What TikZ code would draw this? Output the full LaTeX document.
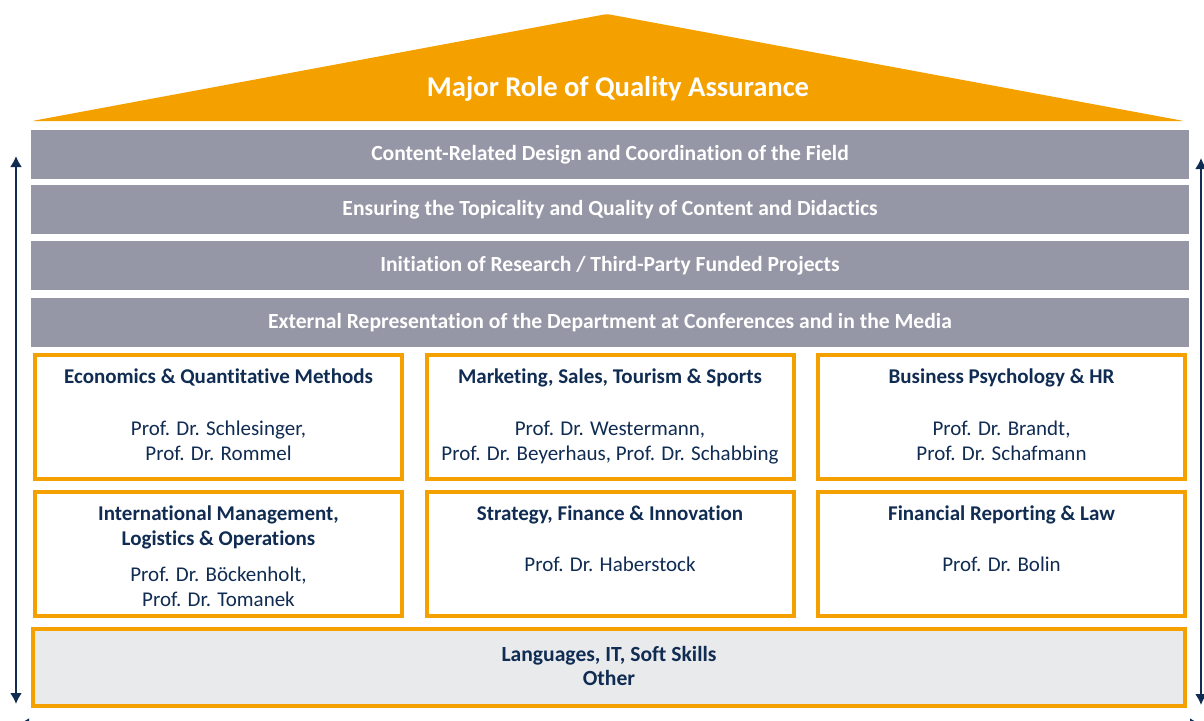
\documentclass[tikz,border=0pt]{standalone}
\usepackage{fontspec}
\setmainfont{Carlito}[Ligatures=NoCommon]
\usetikzlibrary{arrows.meta}
\definecolor{roof}{RGB}{244,161,0}
\definecolor{bargray}{RGB}{150,151,166}
\definecolor{navy}{RGB}{16,44,82}
\definecolor{basegray}{RGB}{233,234,236}
\tikzset{bar/.style={fill=bargray, text=white, font=\bfseries\fontsize{21.6}{25}\selectfont, minimum width=1158, minimum height=49, inner sep=0}}
\tikzset{field/.style={draw=roof, line width=4, fill=white, minimum width=367, minimum height=124, inner sep=0}}
\tikzset{fieldtext/.style={anchor=north, align=center, text=navy, font=\fontsize{21}{25}\selectfont}}
\tikzset{span/.style={draw=navy, line width=2, {Latex[length=11, width=12]}-{Latex[length=11, width=12]}}}

\begin{document}
\begin{tikzpicture}[x=1pt, y=-1pt]
            \useasboundingbox (0, 0) rectangle (1204, 720);
            \clip (0, 0) rectangle (1204, 720);
            \fill[roof, rounded corners=2] (32, 121) -- (607, 14) -- (1184, 121) -- cycle;
            \node (roofText) at (618, 89) [text=white, font=\bfseries\fontsize{28.6}{32}\selectfont] {Major Role of Quality Assurance};
            \node[bar] (design) at (610, 154.5) {Content-Related Design and Coordination of the Field};
            \node[bar] (topical) at (610, 209.5) {Ensuring the Topicality and Quality of Content and Didactics};
            \node[bar] (research) at (610, 265.5) {Initiation of Research / Third-Party Funded Projects};
            \node[bar] (external) at (610, 322.5) {External Representation of the Department at Conferences and in the Media};
            \node[field] (econ) at (218.5, 417) {};
            \node[field] (market) at (610, 417) {};
            \node[field] (psych) at (1001.5, 417) {};
            \node[field] (intl) at (218.5, 554) {};
            \node[field] (strat) at (610, 554) {};
            \node[field] (report) at (1001.5, 554) {};
            \node[fieldtext] (econText) at ([yshift=-12]econ.north) {\textbf{Economics \& Quantitative Methods}\\[27pt] Prof. Dr. Schlesinger,\\ Prof. Dr. Rommel};
            \node[fieldtext] (marketText) at ([yshift=-12]market.north) {\textbf{Marketing, Sales, Tourism \& Sports}\\[27pt] Prof. Dr. Westermann,\\ Prof. Dr. Beyerhaus, Prof. Dr. Schabbing};
            \node[fieldtext] (psychText) at ([yshift=-12]psych.north) {\textbf{Business Psychology \& HR}\\[27pt] Prof. Dr. Brandt,\\ Prof. Dr. Schafmann};
            \node[fieldtext] (intlText) at ([yshift=-12]intl.north) {\textbf{International Management,}\\ \textbf{Logistics \& Operations}\\[11pt] Prof. Dr. Böckenholt,\\ Prof. Dr. Tomanek};
            \node[fieldtext] (stratText) at ([yshift=-12]strat.north) {\textbf{Strategy, Finance \& Innovation}\\[26pt] Prof. Dr. Haberstock};
            \node[fieldtext] (reportText) at ([yshift=-12]report.north) {\textbf{Financial Reporting \& Law}\\[26pt] Prof. Dr. Bolin};
            \node (base) at (609, 667.5) [draw=roof, line width=4, fill=basegray, minimum width=1152, minimum height=77] {};
            \node (baseText) at ([yshift=2]base.center) [align=center, text=navy, font=\bfseries\fontsize{21.6}{24}\selectfont] {Languages, IT, Soft Skills\\ Other};
            \coordinate (leftTop) at (16, 156);
            \coordinate (leftBottom) at (16, 704);
            \coordinate (rightTop) at (1201, 158);
            \coordinate (rightBottom) at (1201, 705);
            \coordinate (bottomLeft) at (18, 724);
            \coordinate (bottomRight) at (1201, 724);
            \draw[span] (leftTop) -- (leftBottom);
            \draw[span] (rightTop) -- (rightBottom);
            \draw[span] (bottomLeft) -- (bottomRight);
        \end{tikzpicture}
\end{document}
